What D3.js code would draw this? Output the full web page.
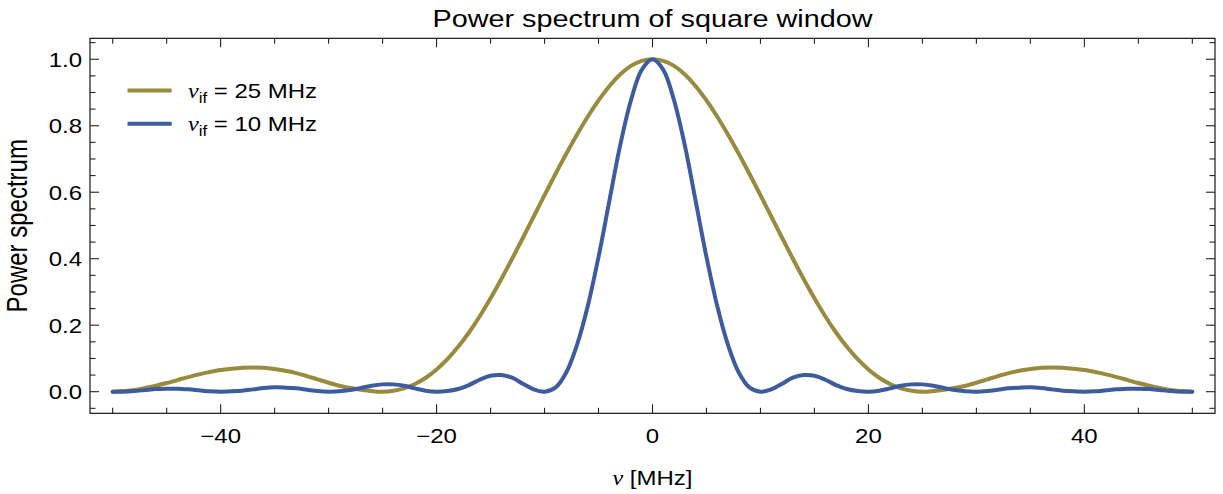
<!DOCTYPE html>
<html>
<head>
<meta charset="utf-8">
<script src="https://cdn.jsdelivr.net/npm/d3@7"></script>
<style>
  html, body { margin: 0; padding: 0; background: #fff; }
  svg { display: block; }
  text { font-family: "Liberation Sans", Arial, sans-serif; fill: #000; }
</style>
</head>
<body>
<svg id="chart" width="1223" height="494"></svg>
<script>
// ---- data ----
const title = "Power spectrum of square window";
const xLabel = "[MHz]";
const yLabel = "Power spectrum";
const nu = d3.range(-50, 51, 1);   // MHz sample grid
const gold25 = [
  0.000,0.002,0.005,0.011,0.018,0.026,0.035,0.044,0.052,0.059,
  0.065,0.069,0.072,0.073,0.072,0.068,0.063,0.056,0.047,0.037,
  0.027,0.018,0.011,0.006,0.002,0.000,0.003,0.010,0.023,0.042,
  0.067,0.098,0.135,0.178,0.227,0.281,0.339,0.400,0.463,0.527,
  0.591,0.654,0.715,0.773,0.827,0.876,0.919,0.954,0.980,0.995,
  1.000,
  0.995,0.980,0.954,0.919,0.876,0.827,0.773,0.715,0.654,0.591,
  0.527,0.463,0.400,0.339,0.281,0.227,0.178,0.135,0.098,0.067,
  0.042,0.023,0.010,0.003,0.000,0.002,0.006,0.011,0.018,0.027,
  0.037,0.047,0.056,0.063,0.068,0.072,0.073,0.072,0.069,0.065,
  0.059,0.052,0.044,0.035,0.026,0.018,0.011,0.005,0.002,0.000
];
const blue10 = [
  0.000,0.000,0.002,0.005,0.008,0.009,0.009,0.007,0.004,0.001,
  0.000,0.001,0.003,0.007,0.011,0.013,0.012,0.010,0.006,0.002,
  0.000,0.001,0.005,0.011,0.018,0.022,0.022,0.018,0.010,0.003,
  0.000,0.002,0.008,0.020,0.036,0.048,0.050,0.042,0.024,0.007,
  0.000,0.012,0.057,0.140,0.257,0.405,0.573,0.740,0.876,0.968,
  1.000,
  0.968,0.876,0.740,0.573,0.405,0.257,0.140,0.057,0.012,0.000,
  0.007,0.024,0.042,0.050,0.048,0.036,0.020,0.008,0.002,0.000,
  0.003,0.010,0.018,0.022,0.022,0.018,0.011,0.005,0.001,0.000,
  0.002,0.006,0.010,0.012,0.013,0.011,0.007,0.003,0.001,0.000,
  0.001,0.004,0.007,0.009,0.009,0.008,0.005,0.002,0.000,0.000
];
const seriesNames = ["25 MHz", "10 MHz"];
const seriesColors = ["#9a8a3e", "#3d5c9f"];
const xMajor = [-40, -20, 0, 20, 40];
const xMinor = [-50,-45,-35,-30,-25,-15,-10,-5,5,10,15,25,30,35,45,50];
const yMajor = [0.0, 0.2, 0.4, 0.6, 0.8, 1.0];
const yMinor = [-0.05,0.05,0.1,0.15,0.25,0.3,0.35,0.45,0.5,0.55,0.65,0.7,0.75,0.85,0.9,0.95,1.05];

// ---- layout ----
const svg = d3.select("#chart");
const L = 90, R = 1215, T = 38.3, B = 413.3;
const SX = 1.2; // horizontal stretch of text in the reference
const x = d3.scaleLinear().domain([-52.1, 52.1]).range([L, R]);
const y = d3.scaleLinear().domain([-0.065, 1.063]).range([B, T]);

svg.append("defs").append("clipPath").attr("id", "clip")
  .append("rect").attr("x", L).attr("y", T).attr("width", R - L).attr("height", B - T);

// curves
const line = d3.line().x(d => x(d[0])).y(d => y(d[1])).curve(d3.curveCatmullRom.alpha(0.5));
const series = [gold25, blue10];
const gCurves = svg.append("g").attr("clip-path", "url(#clip)");
series.forEach((vals, i) => {
  gCurves.append("path")
    .datum(nu.map((v, k) => [v, vals[k]]))
    .attr("d", line)
    .attr("fill", "none")
    .attr("stroke", seriesColors[i])
    .attr("stroke-width", 4)
    .attr("stroke-linejoin", "round")
    .attr("stroke-linecap", "round");
});

// frame
svg.append("rect").attr("x", L).attr("y", T).attr("width", R - L).attr("height", B - T)
  .attr("fill", "none").attr("stroke", "#000").attr("stroke-width", 1.1);

// ticks (inside, all 4 sides)
const tk = svg.append("g").attr("stroke", "#222").attr("stroke-width", 1.1);
const addX = (vals, len) => vals.forEach(v => {
  tk.append("line").attr("x1", x(v)).attr("x2", x(v)).attr("y1", B).attr("y2", B - len);
  tk.append("line").attr("x1", x(v)).attr("x2", x(v)).attr("y1", T).attr("y2", T + len);
});
const addY = (vals, len) => vals.forEach(v => {
  tk.append("line").attr("y1", y(v)).attr("y2", y(v)).attr("x1", L).attr("x2", L + len);
  tk.append("line").attr("y1", y(v)).attr("y2", y(v)).attr("x1", R).attr("x2", R - len);
});
addX(xMajor, 9); addX(xMinor, 5.5);
addY(yMajor, 9); addY(yMinor, 5.5);

// tick labels
const fmtX = d => (d < 0 ? "\u2212" + Math.abs(d) : String(d));
xMajor.forEach(v => {
  svg.append("g").attr("transform", `translate(${x(v)},${B + 29.4}) scale(${SX},1)`)
    .append("text").attr("text-anchor", "middle").attr("font-size", 20).text(fmtX(v));
});
yMajor.forEach(v => {
  svg.append("g").attr("transform", `translate(82,${y(v) + 7.3}) scale(${SX},1)`)
    .append("text").attr("text-anchor", "end").attr("font-size", 20).text(v.toFixed(1));
});

// title
svg.append("g").attr("transform", `translate(${(L + R) / 2},27.3) scale(${SX},1)`)
  .append("text").attr("text-anchor", "middle").attr("font-size", 24).text(title);

// x label
const xl = svg.append("g").attr("transform", `translate(${x(0)},485) scale(${SX},1)`)
  .append("text").attr("text-anchor", "middle").attr("font-size", 20);
xl.append("tspan").attr("font-family", "Liberation Serif").attr("font-style", "italic").text("\u03BD");
xl.append("tspan").text(" " + xLabel);

// y label
svg.append("g").attr("transform", `translate(27,${(T + B) / 2}) scale(${SX},1) rotate(-90)`)
  .append("text").attr("text-anchor", "middle").attr("font-size", 24).text(yLabel);

// legend
const legY = [90.5, 123.7];
seriesNames.forEach((name, i) => {
  svg.append("line").attr("x1", 127.5).attr("x2", 171.7).attr("y1", legY[i]).attr("y2", legY[i])
    .attr("stroke", seriesColors[i]).attr("stroke-width", 4);
  const t = svg.append("g").attr("transform", `translate(188,${legY[i] + 7.3}) scale(${SX},1)`)
    .append("text").attr("font-size", 20);
  t.append("tspan").attr("font-family", "Liberation Serif").attr("font-style", "italic").text("\u03BD");
  t.append("tspan").attr("font-size", 14).attr("dy", 5).text("if");
  t.append("tspan").attr("dy", -5).text(" = " + name);
});
</script>
</body>
</html>
